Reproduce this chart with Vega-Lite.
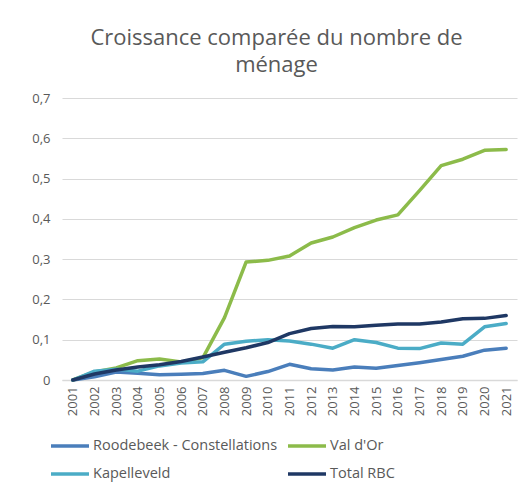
{
  "$schema": "https://vega.github.io/schema/vega-lite/v6.json",
  "autosize": "none",
  "width": 455,
  "height": 282,
  "padding": {"left": 62, "top": 98, "right": 2, "bottom": 112},
  "background": "white",
  "title": {
    "text": ["Croissance comparée du nombre de", "ménage"],
    "anchor": "middle",
    "frame": "group",
    "font": "Open Sans",
    "fontSize": 22,
    "fontWeight": "normal",
    "color": "#595959",
    "lineHeight": 27,
    "offset": 15,
    "dx": -13
  },
  "data": {
    "values": [
      {"year": "2001", "series": "Roodebeek - Constellations", "value": 0},
      {"year": "2002", "series": "Roodebeek - Constellations", "value": 0.008},
      {"year": "2003", "series": "Roodebeek - Constellations", "value": 0.02},
      {"year": "2004", "series": "Roodebeek - Constellations", "value": 0.017},
      {"year": "2005", "series": "Roodebeek - Constellations", "value": 0.013},
      {"year": "2006", "series": "Roodebeek - Constellations", "value": 0.014},
      {"year": "2007", "series": "Roodebeek - Constellations", "value": 0.016},
      {"year": "2008", "series": "Roodebeek - Constellations", "value": 0.024},
      {"year": "2009", "series": "Roodebeek - Constellations", "value": 0.009},
      {"year": "2010", "series": "Roodebeek - Constellations", "value": 0.021},
      {"year": "2011", "series": "Roodebeek - Constellations", "value": 0.039},
      {"year": "2012", "series": "Roodebeek - Constellations", "value": 0.028},
      {"year": "2013", "series": "Roodebeek - Constellations", "value": 0.025},
      {"year": "2014", "series": "Roodebeek - Constellations", "value": 0.032},
      {"year": "2015", "series": "Roodebeek - Constellations", "value": 0.029},
      {"year": "2016", "series": "Roodebeek - Constellations", "value": 0.036},
      {"year": "2017", "series": "Roodebeek - Constellations", "value": 0.043},
      {"year": "2018", "series": "Roodebeek - Constellations", "value": 0.051},
      {"year": "2019", "series": "Roodebeek - Constellations", "value": 0.059},
      {"year": "2020", "series": "Roodebeek - Constellations", "value": 0.074},
      {"year": "2021", "series": "Roodebeek - Constellations", "value": 0.079},
      {"year": "2001", "series": "Val d'Or", "value": 0},
      {"year": "2002", "series": "Val d'Or", "value": 0.02},
      {"year": "2003", "series": "Val d'Or", "value": 0.03},
      {"year": "2004", "series": "Val d'Or", "value": 0.048},
      {"year": "2005", "series": "Val d'Or", "value": 0.052},
      {"year": "2006", "series": "Val d'Or", "value": 0.045},
      {"year": "2007", "series": "Val d'Or", "value": 0.055},
      {"year": "2008", "series": "Val d'Or", "value": 0.155},
      {"year": "2009", "series": "Val d'Or", "value": 0.293},
      {"year": "2010", "series": "Val d'Or", "value": 0.297},
      {"year": "2011", "series": "Val d'Or", "value": 0.308},
      {"year": "2012", "series": "Val d'Or", "value": 0.34},
      {"year": "2013", "series": "Val d'Or", "value": 0.355},
      {"year": "2014", "series": "Val d'Or", "value": 0.378},
      {"year": "2015", "series": "Val d'Or", "value": 0.397},
      {"year": "2016", "series": "Val d'Or", "value": 0.41},
      {"year": "2017", "series": "Val d'Or", "value": 0.47},
      {"year": "2018", "series": "Val d'Or", "value": 0.532},
      {"year": "2019", "series": "Val d'Or", "value": 0.548},
      {"year": "2020", "series": "Val d'Or", "value": 0.57},
      {"year": "2021", "series": "Val d'Or", "value": 0.572},
      {"year": "2001", "series": "Kapelleveld", "value": 0},
      {"year": "2002", "series": "Kapelleveld", "value": 0.022},
      {"year": "2003", "series": "Kapelleveld", "value": 0.027},
      {"year": "2004", "series": "Kapelleveld", "value": 0.022},
      {"year": "2005", "series": "Kapelleveld", "value": 0.035},
      {"year": "2006", "series": "Kapelleveld", "value": 0.042},
      {"year": "2007", "series": "Kapelleveld", "value": 0.045},
      {"year": "2008", "series": "Kapelleveld", "value": 0.089},
      {"year": "2009", "series": "Kapelleveld", "value": 0.096},
      {"year": "2010", "series": "Kapelleveld", "value": 0.1},
      {"year": "2011", "series": "Kapelleveld", "value": 0.097},
      {"year": "2012", "series": "Kapelleveld", "value": 0.089},
      {"year": "2013", "series": "Kapelleveld", "value": 0.079},
      {"year": "2014", "series": "Kapelleveld", "value": 0.1},
      {"year": "2015", "series": "Kapelleveld", "value": 0.093},
      {"year": "2016", "series": "Kapelleveld", "value": 0.079},
      {"year": "2017", "series": "Kapelleveld", "value": 0.078},
      {"year": "2018", "series": "Kapelleveld", "value": 0.092},
      {"year": "2019", "series": "Kapelleveld", "value": 0.089},
      {"year": "2020", "series": "Kapelleveld", "value": 0.132},
      {"year": "2021", "series": "Kapelleveld", "value": 0.14},
      {"year": "2001", "series": "Total RBC", "value": 0},
      {"year": "2002", "series": "Total RBC", "value": 0.015},
      {"year": "2003", "series": "Total RBC", "value": 0.025},
      {"year": "2004", "series": "Total RBC", "value": 0.032},
      {"year": "2005", "series": "Total RBC", "value": 0.038},
      {"year": "2006", "series": "Total RBC", "value": 0.046},
      {"year": "2007", "series": "Total RBC", "value": 0.057},
      {"year": "2008", "series": "Total RBC", "value": 0.069},
      {"year": "2009", "series": "Total RBC", "value": 0.08},
      {"year": "2010", "series": "Total RBC", "value": 0.093},
      {"year": "2011", "series": "Total RBC", "value": 0.115},
      {"year": "2012", "series": "Total RBC", "value": 0.128},
      {"year": "2013", "series": "Total RBC", "value": 0.133},
      {"year": "2014", "series": "Total RBC", "value": 0.132},
      {"year": "2015", "series": "Total RBC", "value": 0.136},
      {"year": "2016", "series": "Total RBC", "value": 0.139},
      {"year": "2017", "series": "Total RBC", "value": 0.139},
      {"year": "2018", "series": "Total RBC", "value": 0.144},
      {"year": "2019", "series": "Total RBC", "value": 0.152},
      {"year": "2020", "series": "Total RBC", "value": 0.153},
      {"year": "2021", "series": "Total RBC", "value": 0.16}
    ]
  },
  "mark": {"type": "line", "strokeWidth": 3.5, "strokeCap": "round", "strokeJoin": "round"},
  "encoding": {
    "x": {
      "field": "year",
      "type": "ordinal",
      "scale": {"type": "point", "padding": 0.5},
      "axis": {
        "title": null,
        "labelAngle": -90,
        "labelFont": "Open Sans",
        "labelFontSize": 13,
        "labelColor": "#595959",
        "labelPadding": 6,
        "ticks": false,
        "domain": true,
        "domainColor": "#d9d9d9",
        "domainWidth": 1.5,
        "grid": false
      }
    },
    "y": {
      "field": "value",
      "type": "quantitative",
      "scale": {"domain": [0, 0.7], "nice": false},
      "axis": {
        "title": null,
        "values": [0, 0.1, 0.2, 0.3, 0.4, 0.5, 0.6, 0.7],
        "labelExpr": "datum.value == 0 ? '0' : replace(format(datum.value, '.1f'), '.', ',')",
        "labelFont": "Open Sans",
        "labelFontSize": 13,
        "labelColor": "#595959",
        "labelPadding": 12,
        "ticks": false,
        "domain": false,
        "grid": true,
        "gridColor": "#d9d9d9",
        "gridWidth": 1.2
      }
    },
    "color": {
      "field": "series",
      "type": "nominal",
      "sort": ["Roodebeek - Constellations", "Val d'Or", "Kapelleveld", "Total RBC"],
      "scale": {
        "domain": ["Roodebeek - Constellations", "Val d'Or", "Kapelleveld", "Total RBC"],
        "range": ["#4a7ebb", "#8cbb4a", "#4bacc6", "#1f3864"]
      },
      "legend": {
        "title": null,
        "orient": "none",
        "direction": "horizontal",
        "legendX": -13,
        "legendY": 327,
        "columns": 2,
        "columnPadding": 3,
        "rowPadding": -10,
        "symbolType": "stroke",
        "symbolSize": 1444,
        "symbolStrokeWidth": 3.5,
        "labelFont": "Open Sans",
        "labelFontSize": 14.5,
        "labelColor": "#595959",
        "labelOffset": 2,
        "labelLimit": 300
      }
    }
  },
  "config": {
    "view": {"stroke": null}
  }
}
